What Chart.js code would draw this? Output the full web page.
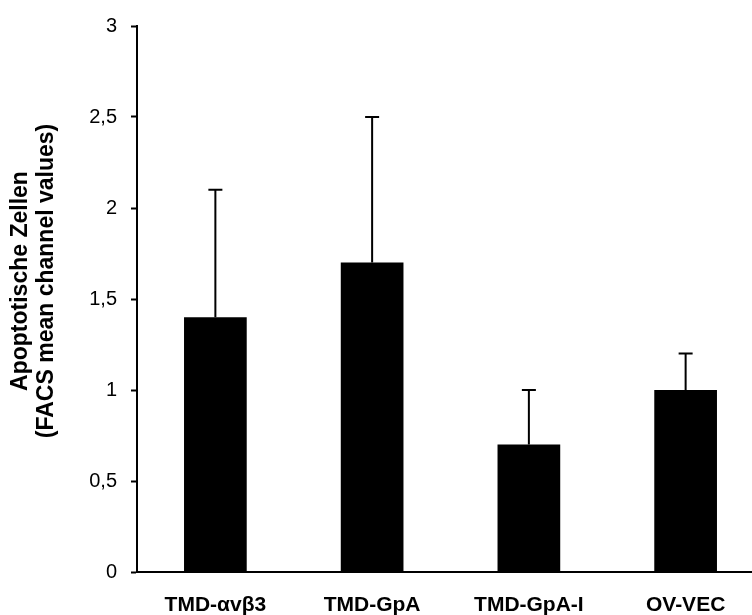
<!DOCTYPE html>
<html>
<head>
<meta charset="utf-8">
<script src="https://cdn.jsdelivr.net/npm/chart.js@4.4.0/dist/chart.umd.min.js"></script>
<style>
  html, body { margin: 0; padding: 0; background: #fff; overflow: hidden; }
  #wrap { width: 780px; height: 615px; }
</style>
</head>
<body>
<div id="wrap"><canvas id="chart" width="780" height="615"></canvas></div>
<script>
// Apoptotische Zellen — FACS mean channel values
var LABELS = ['TMD-\u03b1v\u03b23', 'TMD-GpA', 'TMD-GpA-I', 'OV-VEC'];
var MEANS  = [1.4, 1.7, 0.7, 1.0];
var SD     = [0.7, 0.8, 0.3, 0.2];
var Y_TICKS = [0, 0.5, 1, 1.5, 2, 2.5, 3];
var Y_TITLE = ['Apoptotische Zellen', '(FACS mean channel values)'];

var FONT = '"Liberation Sans", Arial, sans-serif';

// upper error bars, drawn through the chart's own scales
var errorBars = {
  id: 'errorBars',
  afterDatasetsDraw: function(chart) {
    var ctx = chart.ctx;
    var yScale = chart.scales.y;
    var meta = chart.getDatasetMeta(0);
    ctx.save();
    ctx.strokeStyle = '#000';
    ctx.lineWidth = 2;
    for (var i = 0; i < meta.data.length; i++) {
      var bar = meta.data[i];
      var yTop = yScale.getPixelForValue(MEANS[i] + SD[i]);
      ctx.beginPath();
      ctx.moveTo(bar.x, bar.y);
      ctx.lineTo(bar.x, yTop);
      ctx.moveTo(bar.x - 7, yTop);
      ctx.lineTo(bar.x + 7, yTop);
      ctx.stroke();
    }
    ctx.restore();
  }
};

// two-line rotated y title, sits a bit above the axis middle like the original
var yTitle = {
  id: 'yTitle',
  afterDraw: function(chart) {
    var ctx = chart.ctx;
    var yScale = chart.scales.y;
    var cy = yScale.getPixelForValue(1.5) - 18;
    ctx.save();
    ctx.fillStyle = '#000';
    ctx.font = 'bold 23px ' + FONT;
    ctx.textAlign = 'center';
    ctx.textBaseline = 'alphabetic';
    var baselines = [27, 53];
    for (var i = 0; i < Y_TITLE.length; i++) {
      ctx.save();
      ctx.translate(baselines[i], cy);
      ctx.rotate(-Math.PI / 2);
      ctx.fillText(Y_TITLE[i], 0, 0);
      ctx.restore();
    }
    ctx.restore();
  }
};

new Chart(document.getElementById('chart'), {
  type: 'bar',
  data: {
    labels: LABELS,
    datasets: [{
      data: MEANS,
      backgroundColor: '#000',
      borderWidth: 0,
      barPercentage: 0.4,
      categoryPercentage: 1
    }]
  },
  options: {
    responsive: false,
    animation: false,
    layout: { padding: { top: 22, right: 16, bottom: 0, left: 0 } },
    plugins: { legend: { display: false }, tooltip: { enabled: false } },
    scales: {
      x: {
        grid: { display: false },
        border: { color: '#000', width: 2 },
        ticks: { color: '#000', font: { family: FONT, size: 21, weight: 'bold' }, padding: 13, maxRotation: 0 },
        afterFit: function(s) { s.height = 43; }
      },
      y: {
        min: 0,
        max: 3,
        afterBuildTicks: function(s) { s.ticks = Y_TICKS.map(function(v) { return { value: v }; }); },
        grid: { drawOnChartArea: false, drawTicks: true, tickLength: 6, tickColor: '#000', tickWidth: 2 },
        border: { color: '#000', width: 2 },
        ticks: {
          color: '#000',
          font: { family: FONT, size: 20 },
          padding: 14,
          callback: function(v) { return String(v).replace('.', ','); }
        },
        afterFit: function(s) { s.width = 137; }
      }
    }
  },
  plugins: [errorBars, yTitle]
});
</script>
</body>
</html>
